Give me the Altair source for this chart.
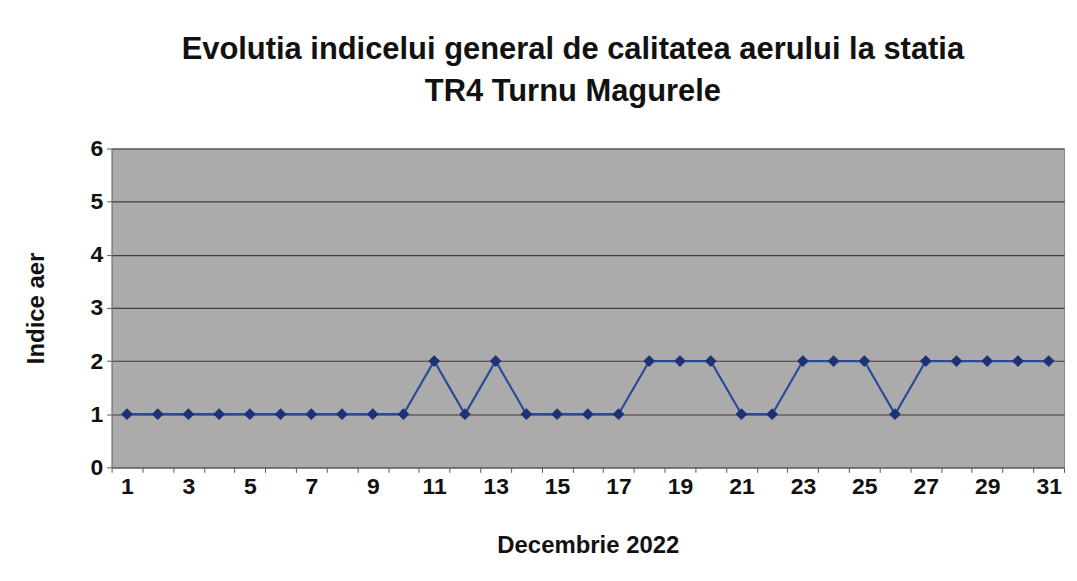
import altair as alt
import pandas as pd

days = list(range(1, 32))
values = [1, 1, 1, 1, 1, 1, 1, 1, 1, 1,
          2, 1, 2, 1, 1, 1, 1, 2, 2, 2,
          1, 1, 2, 2, 2, 1, 2, 2, 2, 2, 2]

df = pd.DataFrame({"zi": days, "indice": values})

FONT = "Liberation Sans"

base = alt.Chart(df).encode(
    x=alt.X("zi:O", title="Decembrie 2022",
            scale=alt.Scale(paddingInner=0, paddingOuter=0),
            axis=alt.Axis(labelAngle=0, tickBand="extent",
                          labelExpr="datum.value % 2 == 1 ? datum.label : ''",
                          labelFont=FONT, labelFontSize=23, labelFontWeight="bold",
                          labelColor="#111", labelPadding=3,
                          titleFont=FONT, titleFontSize=24, titleFontWeight="bold",
                          titleColor="#111", titlePadding=36,
                          tickColor="#555", tickSize=5, domainColor="#777",
                          grid=False)),
    y=alt.Y("indice:Q", title="Indice aer",
            scale=alt.Scale(domain=[0, 6], nice=False),
            axis=alt.Axis(values=[0, 1, 2, 3, 4, 5, 6], labelFont=FONT, labelFontSize=23,
                          labelFontWeight="bold", labelColor="#111", labelPadding=4,
                          titleFont=FONT, titleFontSize=24, titleFontWeight="bold",
                          titleColor="#111", titlePadding=42,
                          tickColor="#555", tickSize=5, domainColor="#777",
                          grid=True, gridColor="#4a3a30", gridWidth=1.2)),
)

line = base.mark_line(color="#2a4a9a", strokeWidth=2.2)
pts = base.mark_point(shape="diamond", filled=True, color="#1c3275", size=140, opacity=1)

chart = (line + pts).properties(
    width=956, height=320,
    title=alt.TitleParams(
        ["Evolutia indicelui general de calitatea aerului la statia", "TR4 Turnu Magurele"],
        font=FONT, fontSize=31, fontWeight="bold", color="#111",
        lineHeight=42, offset=30, anchor="middle", dx=-15),
    background="white",
    padding={"left": 104, "top": 140, "right": 5, "bottom": 100},
    autosize=alt.AutoSizeParams(type="none"),
).configure_view(fill="#ababab", stroke="#888", strokeWidth=1)

chart.save("out.html", embed_options={"renderer": "svg", "actions": False})
